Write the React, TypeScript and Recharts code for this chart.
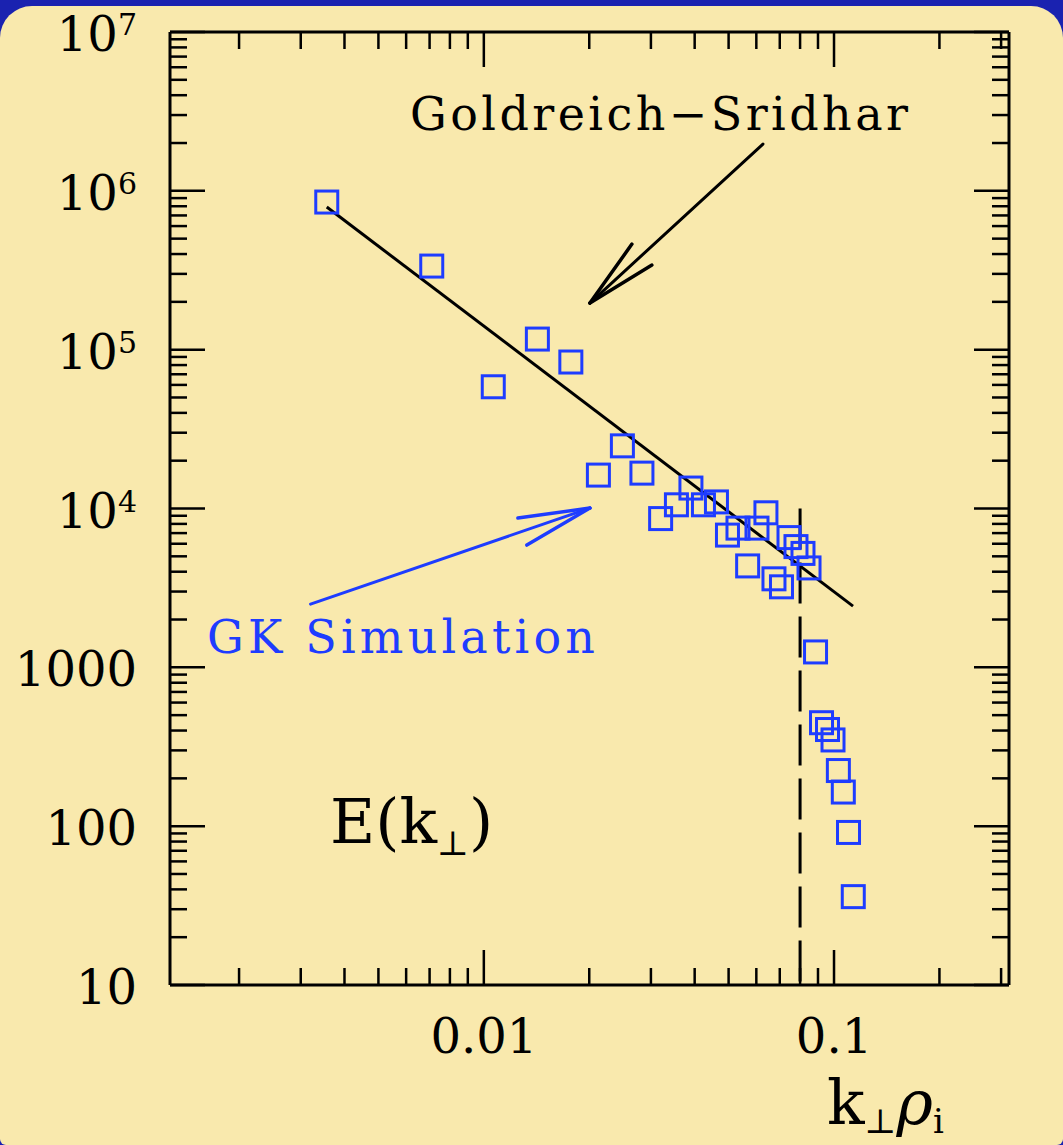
import React from 'react';
import { ScatterChart, Scatter, XAxis, YAxis, ReferenceLine } from 'recharts';

// k_perp * rho_i of each spectrum point, and energy E(k_perp)
const kValues = [
  0.00356, 0.0071, 0.01064, 0.01422, 0.01772, 0.02124, 0.02487, 0.02828,
  0.03198, 0.03548, 0.03903, 0.04238, 0.04616, 0.04963, 0.05318, 0.05667,
  0.06026, 0.06391, 0.06738, 0.07079, 0.07438, 0.07787, 0.08154, 0.08484,
  0.08856, 0.09211, 0.09581, 0.09934, 0.1029, 0.1063, 0.11, 0.1135,
];
const energyValues = [
  850000, 336000, 58400, 116600, 83600, 16230, 24800, 16700,
  8640, 10550, 13450, 10550, 11000, 6800, 7525, 4350,
  7525, 9395, 3608, 3213, 6558, 5756, 5215, 4225,
  1250, 448, 406, 349, 224, 164, 91.3, 36,
];

// Goldreich-Sridhar k^-5/3 line ends
const gsLine = [
  { x: 0.00356, y: 791000 },
  { x: 0.1133, y: 2430 },
];
// dissipation cutoff (dashed)
const cutoffLine = [
  { x: 0.08, y: 10000 },
  { x: 0.08, y: 10 },
];
// annotation arrows: shaft start, tip, two barbs
const gsArrow = [
  { x: 0.06267, y: 1970000 },
  { x: 0.02009, y: 196600 },
  { x: 0.02648, y: 462000 },
  { x: 0.0302, y: 341000 },
];
const gkArrow = [
  { x: 0.0032, y: 2500 },
  { x: 0.02009, y: 10060 },
  { x: 0.01251, y: 8700 },
  { x: 0.01327, y: 5883 },
];

const xMajor = [0.01, 0.1];
const xMajorLabels = ['0.01', '0.1'];
const xMinor = [
  0.002, 0.003, 0.004, 0.005, 0.006, 0.007, 0.008, 0.009,
  0.02, 0.03, 0.04, 0.05, 0.06, 0.07, 0.08, 0.09, 0.2, 0.3,
];
const yMajor = [10, 100, 1000, 10000, 100000, 1000000, 10000000];
const yLabelBase = ['10', '100', '1000', '10', '10', '10', '10'];
const yLabelExp = ['', '', '', '4', '5', '6', '7'];
const yMinor = [
  20, 30, 40, 50, 60, 70, 80, 90,
  200, 300, 400, 500, 600, 700, 800, 900,
  2000, 3000, 4000, 5000, 6000, 7000, 8000, 9000,
  20000, 30000, 40000, 50000, 60000, 70000, 80000, 90000,
  200000, 300000, 400000, 500000, 600000, 700000, 800000, 900000,
  2000000, 3000000, 4000000, 5000000, 6000000, 7000000, 8000000, 9000000,
];

const data = kValues.map((k, i) => ({ x: k, y: energyValues[i] }));
const xTicks = [...xMinor, ...xMajor].sort((a, b) => a - b);
const yTicks = [...yMinor, ...yMajor].sort((a, b) => a - b);

const BLUE = '#1e3cff';
const FONT = '"DejaVu Serif", serif';
const X_DOMAIN = [0.00127, 0.316];
const Y_DOMAIN = [10, 10000000];

const XTick = (side: 'bottom' | 'top') => (props: any) => {
  const { x, y, payload } = props;
  const i = xMajor.indexOf(payload.value);
  const len = i >= 0 ? 35 : 17;
  const dir = side === 'bottom' ? -1 : 1;
  return (
    <g>
      <line x1={x} y1={y} x2={x} y2={y + dir * len} stroke="#000" strokeWidth={2.5} />
      {side === 'bottom' && i >= 0 && (
        <text x={x} y={y + 68} textAnchor="middle" fontFamily={FONT} fontSize={48} fill="#000">
          {xMajorLabels[i]}
        </text>
      )}
    </g>
  );
};

const YTick = (side: 'left' | 'right') => (props: any) => {
  const { x, y, payload } = props;
  const i = yMajor.indexOf(payload.value);
  const len = i >= 0 ? 35 : 17;
  const dir = side === 'left' ? 1 : -1;
  return (
    <g>
      <line x1={x} y1={y} x2={x + dir * len} y2={y} stroke="#000" strokeWidth={2.5} />
      {side === 'left' && i >= 0 && (
        <text x={x - 33} y={y + 19} textAnchor="end" fontFamily={FONT} fontSize={48} fill="#000">
          {yLabelBase[i]}
          {yLabelExp[i] && (
            <tspan dy={-16} fontSize={30}>
              {yLabelExp[i]}
            </tspan>
          )}
        </text>
      )}
    </g>
  );
};

const Square = (props: any) => {
  const { cx, cy } = props;
  return <rect x={cx - 11} y={cy - 11} width={22} height={22} fill="none" stroke={BLUE} strokeWidth={3} />;
};

const NoShape = () => <g />;

const arrowLines = (pts: { x: number; y: number }[], color: string, key: string) => [
  <ReferenceLine key={key + 's'} segment={[pts[0], pts[1]]} stroke={color} strokeWidth={3} strokeLinecap="round" />,
  <ReferenceLine key={key + 'a'} segment={[pts[1], pts[2]]} stroke={color} strokeWidth={3.5} strokeLinecap="round" />,
  <ReferenceLine key={key + 'b'} segment={[pts[1], pts[3]]} stroke={color} strokeWidth={3.5} strokeLinecap="round" />,
];

export default function App() {
  return (
    <div style={{ position: 'absolute', left: 0, top: 0, width: 1063, height: 1145, background: '#1a22b0', overflow: 'hidden' }}>
      <div
        style={{
          position: 'absolute',
          left: 0,
          top: 6,
          width: 1063,
          height: 1139,
          background: '#f9e9ad',
          borderRadius: '32px 32px 6px 6px',
        }}
      />
      <div style={{ position: 'absolute', left: 0, top: 0 }}>
        <ScatterChart width={1063} height={1145} margin={{ top: 31, right: 53, bottom: 60, left: 10 }}>
          <XAxis
            dataKey="x"
            type="number"
            scale="log"
            domain={X_DOMAIN}
            allowDataOverflow
            ticks={xTicks}
            interval={0}
            tickSize={0}
            tickMargin={0}
            tick={XTick('bottom')}
            height={100}
            axisLine={{ stroke: '#000', strokeWidth: 3 }}
          />
          <XAxis
            xAxisId="top"
            orientation="top"
            dataKey="x"
            type="number"
            scale="log"
            domain={X_DOMAIN}
            allowDataOverflow
            ticks={xTicks}
            interval={0}
            tickSize={0}
            tickMargin={0}
            tick={XTick('top')}
            height={1}
            axisLine={{ stroke: '#000', strokeWidth: 3 }}
          />
          <YAxis
            dataKey="y"
            type="number"
            scale="log"
            domain={Y_DOMAIN}
            allowDataOverflow
            ticks={yTicks}
            interval={0}
            tickSize={0}
            tickMargin={0}
            tick={YTick('left')}
            width={160}
            axisLine={{ stroke: '#000', strokeWidth: 3 }}
          />
          <YAxis
            yAxisId="right"
            orientation="right"
            dataKey="y"
            type="number"
            scale="log"
            domain={Y_DOMAIN}
            allowDataOverflow
            ticks={yTicks}
            interval={0}
            tickSize={0}
            tickMargin={0}
            tick={YTick('right')}
            width={1}
            axisLine={{ stroke: '#000', strokeWidth: 3 }}
          />
          <ReferenceLine segment={gsLine} stroke="#000" strokeWidth={3} />
          <ReferenceLine segment={cutoffLine} stroke="#000" strokeWidth={3} strokeDasharray="41 13" />
          {arrowLines(gsArrow, '#000', 'gs')}
          {arrowLines(gkArrow, BLUE, 'gk')}
          <Scatter data={data} xAxisId="top" yAxisId="right" shape={NoShape} isAnimationActive={false} />
          <Scatter data={data} shape={Square} isAnimationActive={false} />
        </ScatterChart>
      </div>
      <svg width={1063} height={1145} style={{ position: 'absolute', left: 0, top: 0, pointerEvents: 'none' }}>
        <text x={410} y={130} fontFamily={FONT} fontSize={46} fill="#000" textLength={498} lengthAdjust="spacing">
          Goldreich−Sridhar
        </text>
        <text x={207} y={653} fontFamily={FONT} fontSize={46} fill={BLUE} textLength={388} lengthAdjust="spacing">
          GK Simulation
        </text>
        <text x={330} y={843} fontFamily={FONT} fontSize={62} fill="#000">
          E(k
          <tspan dy={12} fontSize={34}>⊥</tspan>
          <tspan dy={-12}>)</tspan>
        </text>
        <text x={827} y={1124} fontFamily={FONT} fontSize={62} fill="#000">
          k
          <tspan dy={9} fontSize={34}>⊥</tspan>
          <tspan dy={-9} fontStyle="italic">ρ</tspan>
          <tspan dy={9} fontSize={34}>i</tspan>
        </text>
      </svg>
    </div>
  );
}
